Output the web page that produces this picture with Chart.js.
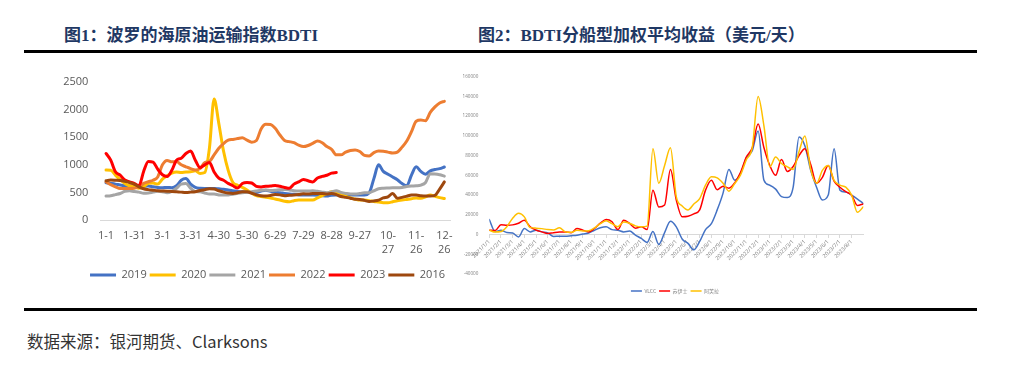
<!DOCTYPE html>
<html lang="zh-CN">
<head>
<meta charset="utf-8">
<title>BDTI</title>
<script src="https://cdn.jsdelivr.net/npm/chart.js@4.4.1/dist/chart.umd.min.js"></script>
<style>
  html, body { margin: 0; padding: 0; background: #fff; }
  body { width: 1020px; height: 365px; position: relative; overflow: hidden; }
  .title { position: absolute; top: 26px; font: bold 17px/20px "Liberation Serif", "Noto Sans CJK SC", serif; color: #1f3864; white-space: nowrap; }
  .rule { position: absolute; left: 24px; width: 953px; height: 3px; background: #000; }
  .source { position: absolute; left: 27px; top: 331px; font: 16.5px/20px "Noto Sans CJK SC", sans-serif; color: #333; white-space: nowrap; }
  canvas { position: absolute; }
</style>
</head>
<body>
<div class="title" style="left:64px">图1：波罗的海原油运输指数BDTI</div>
<div class="title" style="left:478px">图2：BDTI分船型加权平均收益（美元/天）</div>
<div class="rule" style="top:50px"></div>
<canvas id="bdtiChart" width="415" height="245" style="left:60px;top:60px"></canvas>
<canvas id="earnChart" width="440" height="250" style="left:460px;top:60px"></canvas>
<div class="rule" style="top:308px"></div>
<div class="source">数据来源：银河期货、Clarksons</div>

<script>
// ---- 图1: BDTI by year, read every 5 days (day 0 = 1-1) ----
const days = [0,5,10,15,20,25,30,35,40,45,50,55,60,65,70,75,80,85,90,95,100,105,110,115,120,125,130,135,140,145,150,155,160,165,170,175,180,185,190,195,200,205,210,215,220,225,230,235,240,245,250,255,260,265,270,275,280,285,290,295,300,305,310,315,320,325,330,335,340,345,350,355,360];
const tickDays = [0,30,60,90,120,150,180,210,240,270,300,330,360];
const tickLabels = ['1-1','1-31','3-1','3-31','4-30','5-30','6-29','7-29','8-28','9-27',['10-','27'],['11-','26'],['12-','26']];

const bdti2019 = [675,663,650,633,620,614,614,605,614,614,602,590,584,590,584,620,720,750,650,590,575,572,572,572,565,555,545,530,515,512,505,500,500,525,540,520,505,494,480,470,465,455,452,452,452,450,440,434,450,452,452,452,452,452,452,452,490,750,1000,880,830,780,730,660,620,813,964,880,830,890,915,930,960];
const bdti2020 = [904,900,813,730,663,620,602,575,602,663,670,650,740,800,850,870,860,870,873,890,843,860,1300,2190,1750,1250,900,680,630,590,542,490,440,425,410,400,380,361,340,331,350,361,361,361,361,400,440,480,512,490,470,430,400,380,361,361,350,335,325,313,313,330,350,361,373,385,400,392,420,452,430,405,390];
const bdti2021 = [434,440,460,480,520,530,515,505,485,490,505,520,512,495,520,575,650,660,575,515,512,490,470,470,455,452,455,465,482,495,500,512,525,540,542,535,540,550,554,545,530,524,524,524,530,520,505,494,510,530,500,482,470,470,480,494,494,530,565,575,580,584,584,590,605,614,620,633,680,840,835,820,795];
const bdti2022 = [693,640,602,572,572,572,575,602,663,693,720,780,1000,1080,1054,1060,1000,964,930,904,930,1040,1060,1180,1300,1385,1446,1460,1475,1490,1446,1410,1440,1650,1735,1730,1660,1540,1440,1420,1400,1355,1330,1350,1390,1430,1400,1330,1280,1180,1180,1230,1260,1270,1240,1170,1160,1220,1250,1245,1230,1215,1230,1320,1430,1600,1790,1810,1800,1950,2050,2120,2150];
const bdti2023 = [1205,1084,873,813,723,690,663,620,880,1060,1050,920,820,790,900,1084,1120,1205,1250,1084,950,1000,1040,870,760,720,663,620,580,660,680,670,610,600,610,615,625,610,590,575,650,690,735,710,690,760,790,810,850,860];
const bdti2016 = [710,723,720,715,700,680,650,600,565,550,540,530,525,520,518,512,505,500,505,512,535,550,565,560,530,505,490,482,495,512,510,485,455,440,434,445,460,455,440,448,452,460,475,470,480,482,482,470,480,460,425,410,395,375,373,355,335,345,360,400,420,480,395,410,430,452,452,440,434,434,445,560,690];

// ---- 图2: earnings by ship type, read every half month (0 = 2021/1/1) ----
const months = [0,0.5,1,1.5,2,2.5,3,3.5,4,4.5,5,5.5,6,6.5,7,7.5,8,8.5,9,9.5,10,10.5,11,11.5,12,12.5,13,13.5,14,14.5,15,15.5,16,16.5,17,17.5,18,18.5,19,19.5,20,20.5,21,21.5,22,22.5,23,23.5,24,24.5,25,25.5,26,26.5,27,27.5,28,28.5,29,29.5,30,30.5,31,31.5,32];
const monthTicks = [0,1,2,3,4,5,6,7,8,9,10,11,12,13,14,15,16,17,18,19,20,21,22,23,24,25,26,27,28,29,30,31];
const monthLabels = ['2021/1/1','2021/2/1','2021/3/1','2021/4/1','2021/5/1','2021/6/1','2021/7/1','2021/8/1','2021/9/1','2021/10/1','2021/11/1','2021/12/1',
  '2022/1/1','2022/2/1','2022/3/1','2022/4/1','2022/5/1','2022/6/1','2022/7/1','2022/8/1','2022/9/1','2022/10/1','2022/11/1','2022/12/1',
  '2023/1/1','2023/2/1','2023/3/1','2023/4/1','2023/5/1','2023/6/1','2023/7/1','2023/8/1'];

const vlcc = [15200,3000,4400,2000,1500,-2400,6000,2700,4400,2700,1700,-2000,-1700,-1700,-1200,-700,500,1500,4400,6800,7800,5000,4400,2700,3500,-500,-4000,-8000,3000,-10000,2000,13500,7800,-4500,-9000,-15500,-7000,5000,11000,25000,42000,66000,55000,62000,78000,85000,105000,55000,50000,46000,38500,37500,48000,99000,90000,65000,48000,35000,40000,87000,45000,43000,40000,36000,31500];
const suezmax = [4400,4000,10000,9500,9800,11500,14500,7800,4500,2700,1000,1800,2500,2700,1800,6000,4500,2700,6100,11500,15200,13000,5000,14500,11200,6500,7800,5000,45000,28000,30000,66000,35000,18000,18500,21000,25000,45000,55100,45500,49000,47000,52400,63000,78800,88000,112000,88000,70000,60000,76000,64000,69000,80000,87000,71000,52000,58000,70000,54000,48000,43500,39900,29500,31000];
const aframax = [4400,2500,3000,8000,16500,21500,17900,7000,6500,6000,5000,4500,7000,2700,2200,4400,3500,3800,6800,11000,13900,11000,8000,12800,11500,8800,7800,8500,87000,52000,70000,88000,38200,29000,25000,31000,36500,50000,58500,57500,52000,44000,51700,60500,76000,88000,140000,110000,68600,78500,72000,68600,66000,84000,100000,66000,52000,65000,70000,55000,50000,48000,40000,22500,28000];

const pts = (xs, ys) => ys.map((y, i) => ({ x: xs[i], y }));
const byIndex = (a, b) => a.datasetIndex - b.datasetIndex;

function series(label, xs, ys, color, width, order) {
  return {
    label, data: pts(xs, ys),
    borderColor: color, backgroundColor: color, borderWidth: width,
    pointRadius: 0, cubicInterpolationMode: 'monotone',
    borderCapStyle: 'round', borderJoinStyle: 'round', order
  };
}

// empty right-hand axis, only used to shift the centred legend
function spacer(width) {
  return {
    position: 'right', display: true,
    grid: { display: false }, border: { display: false }, ticks: { display: false },
    afterFit: s => { s.width = width; }
  };
}

const grey = '#595959';

new Chart(document.getElementById('bdtiChart'), {
  type: 'line',
  data: {
    datasets: [
      series('2019', days, bdti2019, '#4472c4', 3, 5),
      series('2020', days, bdti2020, '#ffc000', 3, 4),
      series('2021', days, bdti2021, '#a5a5a5', 3, 3),
      series('2022', days, bdti2022, '#ed7d31', 3, 2),
      series('2023', days, bdti2023, '#ff0000', 3, 1),
      series('2016', days, bdti2016, '#9e480e', 3, 0)
    ]
  },
  options: {
    responsive: false,
    animation: false,
    devicePixelRatio: 1,
    layout: { padding: { left: 0, right: 0, top: 22, bottom: 14.5 } },
    plugins: {
      tooltip: { enabled: false },
      legend: {
        position: 'bottom',
        labels: {
          usePointStyle: true, pointStyle: 'line', pointStyleWidth: 26, padding: 3,
          color: grey, font: { family: 'Open Sans', size: 11 }, sort: byIndex
        }
      }
    },
    scales: {
      x: {
        type: 'linear', min: -6, max: 366,
        grid: { display: false },
        border: { color: '#d9d9d9' },
        afterBuildTicks: s => { s.ticks = tickDays.map(v => ({ value: v })); },
        afterFit: s => { s.height = 46.5; s.paddingLeft = 0; s.paddingRight = 0; },
        ticks: {
          autoSkip: false, maxRotation: 0, padding: 0, color: grey,
          font: { family: 'Open Sans', size: 11, lineHeight: 1.35 },
          callback: (v, i) => tickLabels[i]
        }
      },
      y: {
        min: 0, max: 2500,
        grid: { display: false },
        border: { display: false },
        afterFit: s => { s.width = 40.4; },
        ticks: { stepSize: 500, padding: 4, color: grey, font: { family: 'Open Sans', size: 11 }, callback: v => String(v) }
      },
      pad: spacer(25)
    }
  }
});

const light = '#7f7f7f';

new Chart(document.getElementById('earnChart'), {
  type: 'line',
  data: {
    datasets: [
      series('VLCC', months, vlcc, '#4472c4', 1.5, 2),
      series('苏伊士', months, suezmax, '#ff0000', 1.5, 1),
      series('阿芙拉', months, aframax, '#ffc000', 1.5, 0)
    ]
  },
  options: {
    responsive: false,
    animation: false,
    devicePixelRatio: 1,
    layout: { padding: { left: 0, right: 10, top: 16.7, bottom: 6.5 } },
    plugins: {
      tooltip: { enabled: false },
      legend: {
        position: 'bottom',
        title: { display: true, text: '', padding: 0, font: { size: 11.5, lineHeight: 1 } },
        labels: {
          usePointStyle: true, pointStyle: 'line', pointStyleWidth: 11, padding: 3,
          color: light, font: { family: 'Noto Sans CJK SC', size: 5 }, sort: byIndex
        }
      }
    },
    scales: {
      x: {
        type: 'linear', min: 0, max: 32,
        position: { y: 0 },
        grid: { display: true, drawOnChartArea: false, drawTicks: true, tickLength: 3, color: '#d9d9d9' },
        border: { display: true, color: '#d9d9d9' },
        afterBuildTicks: s => { s.ticks = monthTicks.map(v => ({ value: v })); },
        afterFit: s => { s.paddingLeft = 0; s.paddingRight = 0; },
        ticks: {
          autoSkip: false, minRotation: 45, maxRotation: 45, padding: 1, color: light,
          font: { family: 'Open Sans', size: 5.5 },
          callback: (v, i) => monthLabels[i]
        }
      },
      y: {
        min: -40000, max: 160000,
        grid: { display: false },
        border: { display: false },
        afterFit: s => { s.width = 29.3; },
        ticks: { stepSize: 20000, padding: 3, color: light, font: { family: 'Open Sans', size: 4.6 }, callback: v => String(v) }
      },
      pad: spacer(26.7)
    }
  }
});
</script>
</body>
</html>
